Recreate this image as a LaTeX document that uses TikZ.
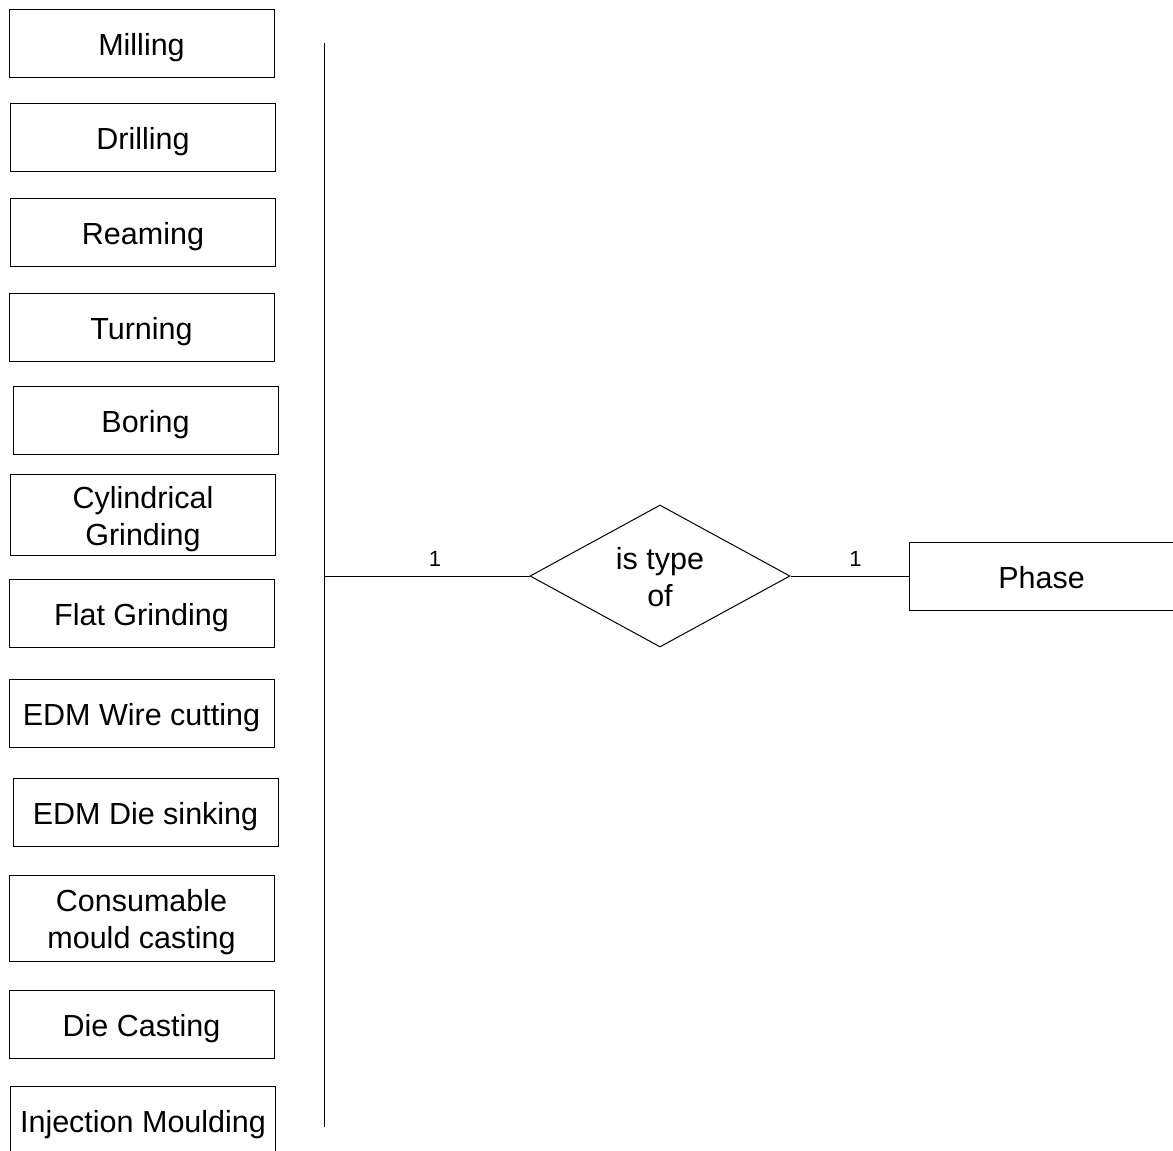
\documentclass[tikz,border=0pt]{standalone}
\usepackage{fontspec}
\setmainfont{Liberation Sans}
\usepackage{tikz}
\usetikzlibrary{positioning}
\usetikzlibrary{shapes.geometric}
\tikzset{
	entbox/.style={
		rectangle,
		draw=black, line width=1pt,
		minimum width=265pt,
		minimum height=68pt,
		inner sep=0pt,
		align=center,
		text height=24.5pt, text depth=0pt,
		font=\fontsize{30.5}{37}\selectfont},
	twoline/.style={text height=61.5pt},
	relshape/.style={
		diamond,
		aspect=1.83,
		draw=black, line width=1pt,
		minimum width=260pt,
		minimum height=142pt,
		inner sep=0pt,
		align=center,
		text height=61.5pt, text depth=0pt,
		font=\fontsize{30.5}{37}\selectfont},
	line/.style={draw, line width=1pt},
	card/.style={above=9pt, inner sep=0pt, font=\fontsize{22}{26}\selectfont},
}

\begin{document}
\begin{tikzpicture}[x=1pt,y=-1pt]
	\useasboundingbox (0,0) rectangle (1173,1151);
	% process types
	\node[entbox] (milling)   at (141.5,43.5)  {Milling};
	\node[entbox] (drilling)  at (143,137.5)   {Drilling};
	\node[entbox] (reaming)   at (143,232)     {Reaming};
	\node[entbox] (turning)   at (141.5,327.5) {Turning};
	\node[entbox] (boring)    at (145.5,420)   {Boring};
	\node[entbox, twoline, minimum height=81pt] (cylgrind) at (143,514.5) {Cylindrical\\Grinding};
	\node[entbox] (flatgrind) at (141.5,613.5) {Flat Grinding};
	\node[entbox] (edmwire)   at (141.5,713.5) {EDM Wire cutting};
	\node[entbox] (edmdie)    at (145.5,812)   {EDM Die sinking};
	\node[entbox, twoline, minimum height=86pt] (consumable) at (141.5,918) {Consumable\\mould casting};
	\node[entbox] (diecast)   at (141.5,1024)  {Die Casting};
	\node[entbox] (injection) at (143,1120)    {Injection Moulding};

	% bus line
	\coordinate (bustop) at (324,43);
	\coordinate (busmid) at (324,576);
	\coordinate (busbot) at (324,1127);
	\path[line] (bustop) -- (busbot);

	% relation
	\node[relshape] (istype) at (660,576) {is type\\of};
	\node[entbox, right=118pt of istype] (phase) {Phase};

	\path[line] (busmid) -- (istype.west) node[card, pos=0.54] {1};
	\path[line] (istype.east) -- (phase.west) node[card, pos=0.55] {1};
\end{tikzpicture}
\end{document}
